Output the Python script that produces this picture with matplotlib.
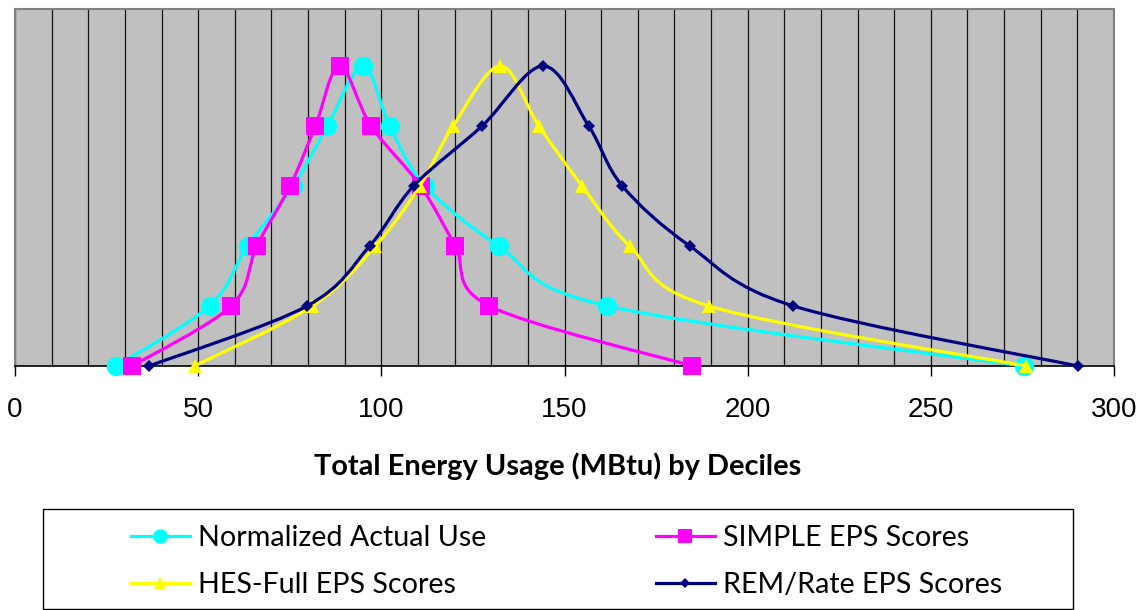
import numpy as np
import matplotlib.pyplot as plt
from matplotlib.path import Path
from matplotlib.patches import PathPatch, Rectangle
from matplotlib.lines import Line2D

# decile rank (up the distribution and back down) and energy use in MBtu
deciles = [0, 1, 2, 3, 4, 5, 4, 3, 2, 1, 0]

actual_use = [27.6, 53.1, 63.5, 76.0, 85.3, 95.0, 102.3, 112.0, 132.1, 161.7, 275.3]
simple_eps = [32.0, 59.0, 66.0, 75.1, 82.0, 88.6, 97.2, 110.7, 120.2, 129.5, 184.9]
hes_full_eps = [49.0, 81.2, 98.4, 110.5, 119.6, 132.5, 143.0, 154.8, 167.8, 189.4, 276.0]
rem_rate_eps = [36.6, 79.7, 96.8, 108.8, 127.5, 144.2, 156.6, 165.8, 184.2, 212.5, 290.1]

series = [
    ("Normalized Actual Use", actual_use, "#00FFFF", "o", 14, 10.5),
    ("SIMPLE EPS Scores", simple_eps, "#FF00FF", "s", 13.5, 10.5),
    ("HES-Full EPS Scores", hes_full_eps, "#FFFF00", "^", 10.5, 8),
    ("REM/Rate EPS Scores", rem_rate_eps, "#000080", "D", 6.2, 5.5),
]


def smooth_path(xs, ys):
    # excel style smoothed line: cubic bezier through every point
    pts = np.column_stack([xs, ys]).astype(float)
    n = len(pts)
    verts = [pts[0]]
    codes = [Path.MOVETO]
    for i in range(n - 1):
        p0 = pts[max(i - 1, 0)]
        p1 = pts[i]
        p2 = pts[i + 1]
        p3 = pts[min(i + 2, n - 1)]
        verts += [p1 + (p2 - p0) / 6, p2 - (p3 - p1) / 6, p2]
        codes += [Path.CURVE4] * 3
    return Path(verts, codes)


W, H = 1146, 610
fig = plt.figure(figsize=(W / 100, H / 100), dpi=100)
ax = fig.add_axes([15 / W, (H - 366) / H, (1114 - 15) / W, (366 - 9) / H])
ax.set_facecolor("#C0C0C0")

handles = []
for i, (label, xs, color, marker, ms, lms) in enumerate(series):
    z = 3 + i
    ax.add_patch(PathPatch(smooth_path(xs, deciles), fill=False, edgecolor=color,
                           lw=2.3, zorder=z, capstyle="round", joinstyle="round"))
    ax.plot(xs, deciles, linestyle="none", marker=marker, markersize=ms,
            color=color, markeredgewidth=0, zorder=z + 0.5, clip_on=False)
    handles.append(Line2D([], [], color=color, lw=2.3, marker=marker,
                          markersize=lms, markeredgewidth=0))

ax.set_xlim(0, 300)
ax.set_ylim(0, 5.95)
ax.set_xticks(np.arange(0, 301, 50))
ax.set_xticks(np.arange(0, 301, 10), minor=True)
ax.set_yticks([])
ax.grid(True, which="both", axis="x", color="#111111", lw=0.9, zorder=1)
ax.set_axisbelow(True)
ax.tick_params(axis="x", which="major", length=7, width=1, color="black",
               pad=15, labelsize=20)
ax.tick_params(axis="x", which="minor", length=0)
for lbl in ax.get_xticklabels():
    lbl.set_fontfamily("Liberation Sans")
for side in ["top", "right", "left"]:
    ax.spines[side].set_color("#808080")
    ax.spines[side].set_linewidth(1.5)
ax.spines["bottom"].set_color("black")
ax.spines["bottom"].set_linewidth(1.2)

fig.text(558 / W, 1 - 466 / H, "Total Energy Usage (MBtu) by Deciles",
         ha="center", va="center", fontsize=20.9, fontweight="bold", family="Lato")

# legend frame plus two columns of entries
fig.add_artist(Rectangle((43 / W, 1 - 609 / H), 1030 / W, 100 / H,
                         transform=fig.transFigure, fill=False, ec="black", lw=1))
legend_kw = dict(loc="upper left", frameon=False, borderpad=0, borderaxespad=0,
                 handlelength=2.05, handletextpad=0.28, labelspacing=0.72,
                 prop={"family": "Lato", "size": 20.6})
leg1 = fig.legend([handles[0], handles[2]], [series[0][0], series[2][0]],
                  bbox_to_anchor=(131 / W, 1 - 525 / H), **legend_kw)
leg2 = fig.legend([handles[1], handles[3]], [series[1][0], series[3][0]],
                  bbox_to_anchor=(656 / W, 1 - 525 / H), **legend_kw)

fig.savefig("out.png", dpi=100)
